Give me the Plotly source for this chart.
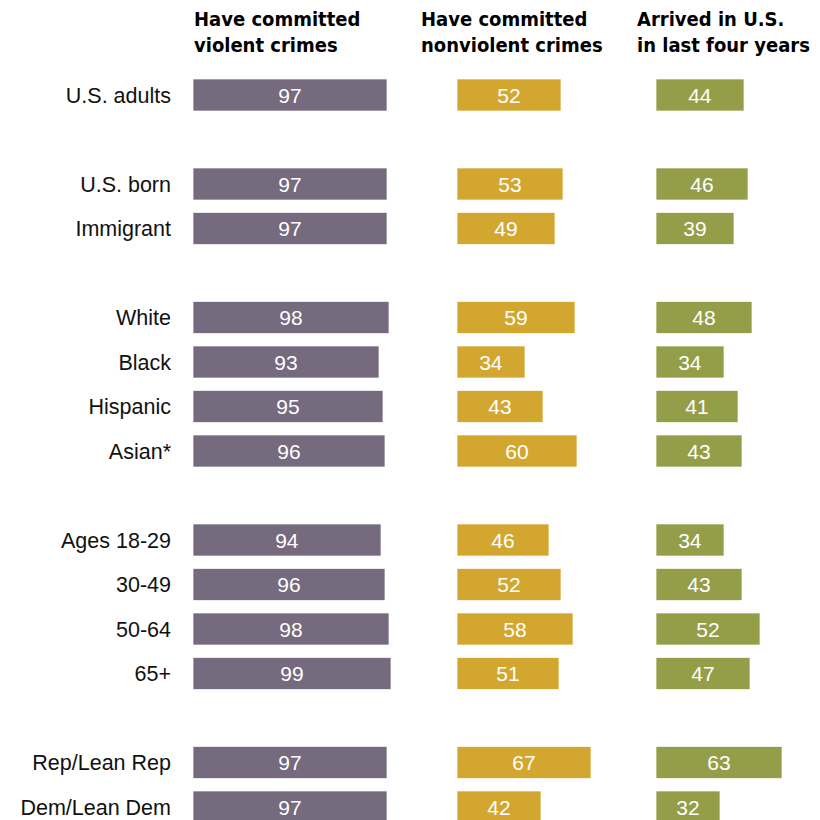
import plotly.graph_objects as go

groups = [
    ["U.S. adults"],
    ["U.S. born", "Immigrant"],
    ["White", "Black", "Hispanic", "Asian*"],
    ["Ages 18-29", "30-49", "50-64", "65+"],
    ["Rep/Lean Rep", "Dem/Lean Dem"],
]
violent = [97, 97, 97, 98, 93, 95, 96, 94, 96, 98, 99, 97, 97]
nonviolent = [52, 53, 49, 59, 34, 43, 60, 46, 52, 58, 51, 67, 42]
arrived = [44, 46, 39, 48, 34, 41, 43, 34, 43, 52, 47, 63, 32]
headers = ["Have committed<br>violent crimes",
           "Have committed<br>nonviolent crimes",
           "Arrived in U.S.<br>in last four years"]
colors = ["#756a7e", "#d3a72f", "#949e48"]

# slot positions: one blank slot between groups
labels, pos = [], []
slot = 0
for g in groups:
    for lab in g:
        labels.append(lab)
        pos.append(slot)
        slot += 1
    slot += 1

W = 820
px = lambda p: p / W
doms = [(193, 393, 100), (457, 653, 98), (656, 820, 82)]
series = [violent, nonviolent, arrived]

fig = go.Figure()
for i, (vals, col) in enumerate(zip(series, colors)):
    ax = "x" if i == 0 else f"x{i+1}"
    fig.add_trace(go.Bar(
        x=vals, y=pos, orientation="h", xaxis=ax, yaxis="y",
        marker=dict(color=col, line=dict(color="rgba(255,255,255,0.7)", width=1)),
        width=0.72, text=[str(v) for v in vals], textposition="inside",
        insidetextanchor="middle", textangle=0,
        textfont=dict(color="white", size=21, family="Liberation Sans, Arial, sans-serif"),
        hoverinfo="skip", showlegend=False, cliponaxis=False,
    ))

layout = dict(
    width=820, height=820, margin=dict(l=0, r=0, t=0, b=0),
    paper_bgcolor="white", plot_bgcolor="white",
    font=dict(family="Liberation Sans, Arial, sans-serif", color="#000"),
    bargap=0.28,
    yaxis=dict(range=[16 + 13 / 44.5, -95 / 44.5], tickmode="array", tickvals=pos,
               ticktext=labels, showgrid=False, zeroline=False, showline=False,
               ticks="", ticklabelstandoff=21, tickfont=dict(size=21.5, color="#111"),
               anchor="x", domain=[0, 1]),
)
for i, (a, b, r) in enumerate(doms):
    key = "xaxis" if i == 0 else f"xaxis{i+1}"
    layout[key] = dict(domain=[px(a), px(b)], range=[0, r], visible=False,
                       anchor="y", fixedrange=True)
fig.update_layout(**layout)

hx = [192, 419, 635]
for h, x in zip(headers, hx):
    fig.add_annotation(text="<b>" + h + "</b>", xref="paper", yref="paper",
                       x=px(x), y=1 - 5 / 820, xanchor="left", yanchor="top",
                       align="left", showarrow=False,
                       font=dict(size=20, color="#000",
                                 family="Liberation Sans Narrow, Arial Narrow, DejaVu Sans Condensed, sans-serif"))

fig.write_html("out.html")
